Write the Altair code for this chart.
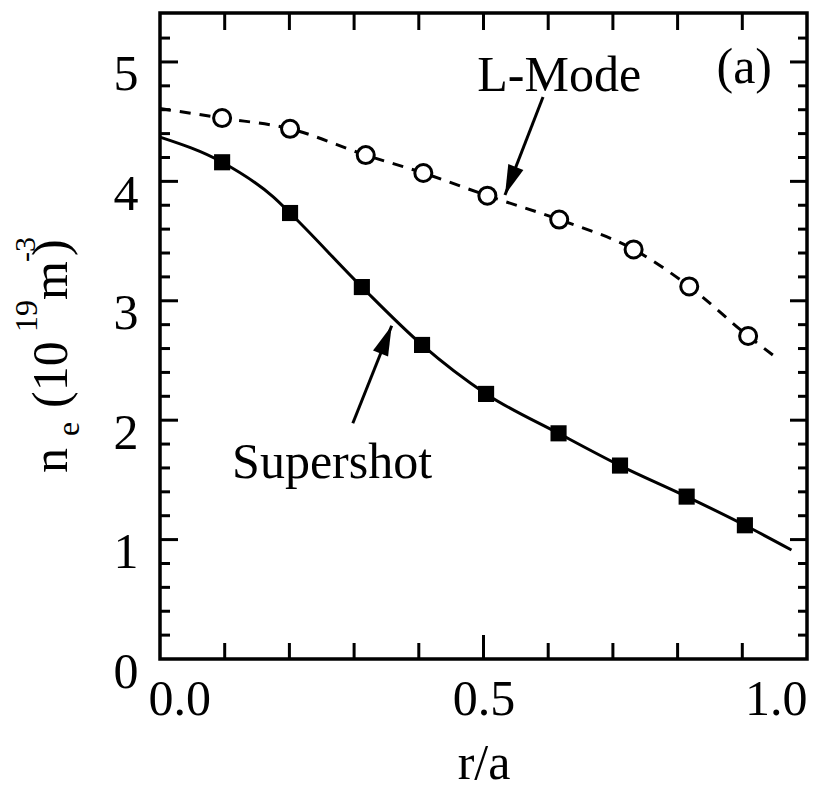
import altair as alt
import pandas as pd

# ---------------- data ----------------
# Supershot (filled squares) and the solid curve through them
r_super = [0.096, 0.201, 0.312, 0.405, 0.504, 0.616, 0.711, 0.814, 0.904]
ne_super = [4.16, 3.735, 3.115, 2.63, 2.22, 1.89, 1.62, 1.36, 1.12]
r_super_curve = [0.0, 0.096, 0.175, 0.201, 0.312, 0.405, 0.504, 0.616, 0.711, 0.814, 0.904, 0.976]
ne_super_curve = [4.37, 4.16, 3.87, 3.735, 3.115, 2.63, 2.22, 1.89, 1.62, 1.36, 1.12, 0.913]

# L-Mode (open circles) and the dashed curve through them
r_lmode = [0.096, 0.201, 0.318, 0.407, 0.506, 0.617, 0.732, 0.818, 0.909]
ne_lmode = [4.53, 4.44, 4.22, 4.07, 3.88, 3.68, 3.43, 3.12, 2.705]
r_lmode_curve = [0.0, 0.096, 0.201, 0.318, 0.407, 0.506, 0.617, 0.732, 0.818, 0.909, 0.951]
ne_lmode_curve = [4.61, 4.53, 4.44, 4.22, 4.07, 3.88, 3.68, 3.43, 3.12, 2.705, 2.53]

# axis labels / ticks
x_label_values = [0.0, 0.5, 1.0]
y_label_values = [0, 1, 2, 3, 4, 5]
x_major_ticks = [0.5]
x_minor_ticks = [0.1, 0.2, 0.3, 0.4, 0.6, 0.7, 0.8, 0.9]
y_major_ticks = [1, 2, 3, 4, 5]
y_minor_ticks = [0.2, 0.4, 0.6, 0.8, 1.2, 1.4, 1.6, 1.8, 2.2, 2.4, 2.6, 2.8,
                 3.2, 3.4, 3.6, 3.8, 4.2, 4.4, 4.6, 4.8, 5.2]

# annotations (text, data x, data y)
notes_text = ["L-Mode", "(a)", "Supershot"]
notes_x = [0.617, 0.903, 0.266]
notes_y = [4.76, 4.82, 1.513]

# arrows: tail -> tip in data coordinates
arrow_x = [0.592, 0.298]
arrow_y = [4.707, 1.974]
arrow_x2 = [0.5332, 0.3581]
arrow_y2 = [3.886, 2.791]
arrow_angle = [201.2, 21.8]

# ---------------- styling ----------------
FONT = "Liberation Serif"
FS = 50
W, H = 647, 646
XMAX, YMAX = 1.0, 5.41

x_scale = alt.Scale(domain=[0, XMAX], nice=False, zero=False)
y_scale = alt.Scale(domain=[0, YMAX], nice=False, zero=False)

x_axis = alt.Axis(values=x_label_values, format=".1f", title="r/a",
                  labelFlush=True,
                  labelOffset={"condition": {"test": "datum.value == 0", "value": -12}, "value": 0},
                  labelPadding=15, titlePadding=14)
y_axis = alt.Axis(values=y_label_values, format="d", title=None,
                  labelPadding=22, labelBaseline="middle", labelOffset=13)


def X(field):
    return alt.X(field, type="quantitative", scale=x_scale, axis=x_axis)


def Y(field):
    return alt.Y(field, type="quantitative", scale=y_scale, axis=y_axis)


super_curve = pd.DataFrame({"x": r_super_curve, "y": ne_super_curve})
lmode_curve = pd.DataFrame({"x": r_lmode_curve, "y": ne_lmode_curve})
super_pts = pd.DataFrame({"x": r_super, "y": ne_super})
lmode_pts = pd.DataFrame({"x": r_lmode, "y": ne_lmode})

line_super = alt.Chart(super_curve).mark_line(color="black", strokeWidth=3, interpolate="monotone").encode(
    x=X("x"), y=Y("y"), order="x:Q")
line_lmode = alt.Chart(lmode_curve).mark_line(color="black", strokeWidth=3, strokeDash=[11, 9],
                                              interpolate="monotone").encode(
    x=X("x"), y=Y("y"), order="x:Q")
pts_super = alt.Chart(super_pts).mark_point(shape="square", filled=True, color="black", size=260, opacity=1).encode(
    x=X("x"), y=Y("y"))
pts_lmode = alt.Chart(lmode_pts).mark_point(shape="circle", filled=True, fill="white", stroke="black",
                                            strokeWidth=3, size=290, opacity=1).encode(
    x=X("x"), y=Y("y"))

# tick marks (inward), lengths converted from pixels to data units
LM, Lm = 18 / W, 10 / W      # left
RM, Rm = 17 / W, 9 / W       # right
BM, Bm = 24 / H * YMAX, 16 / H * YMAX   # bottom
Tm = 17 / H * YMAX           # top
rows = []
for v in y_major_ticks:
    rows.append((0, v, LM, v))
    rows.append((XMAX, v, XMAX - RM, v))
for v in y_minor_ticks:
    rows.append((0, v, Lm, v))
    rows.append((XMAX, v, XMAX - Rm, v))
for v in x_major_ticks:
    rows.append((v, 0, v, BM))
    rows.append((v, YMAX, v, YMAX - Tm))
for v in x_minor_ticks:
    rows.append((v, 0, v, Bm))
    rows.append((v, YMAX, v, YMAX - Tm))
ticks = pd.DataFrame(rows, columns=["x", "y", "x2", "y2"])
tick_layer = alt.Chart(ticks).mark_rule(color="black", strokeWidth=3).encode(
    x=X("x"), y=Y("y"), x2="x2", y2="y2")

notes = pd.DataFrame({"t": notes_text, "x": notes_x, "y": notes_y})
note_layer = alt.Chart(notes).mark_text(font=FONT, fontSize=FS, color="black", align="center",
                                        baseline="alphabetic").encode(
    x=X("x"), y=Y("y"), text="t:N")

arrows = pd.DataFrame({"x": arrow_x, "y": arrow_y, "x2": arrow_x2, "y2": arrow_y2, "a": arrow_angle})
arrow_lines = alt.Chart(arrows).mark_rule(color="black", strokeWidth=3).encode(
    x=X("x"), y=Y("y"), x2="x2", y2="y2")
arrow_heads = alt.Chart(arrows).mark_point(shape="M0,0L0.27,1L-0.27,1Z", filled=True, color="black",
                                           size=3600, opacity=1).encode(
    x=X("x2"), y=Y("y2"), angle=alt.Angle("a:Q", scale=None))

# composite y-axis title: n_e (10^19 m^-3)
dummy = pd.DataFrame({"d": [0]})
title_pieces = [
    ("n", -93, 460, FS),
    ("e", -81, 423, 32),
    ("(10", -93, 395, FS),
    ("19", -123, 319, 32),
    ("m", -93, 287, FS),
    ("-3", -125, 249, 30),
    (")", -93, 243, FS),
]
title_layers = [
    alt.Chart(dummy).mark_text(text=t, font=FONT, fontSize=fs, color="black", angle=270,
                               align="left", baseline="alphabetic").encode(
        x=alt.value(px), y=alt.value(py))
    for (t, px, py, fs) in title_pieces
]

chart = alt.layer(
    tick_layer, line_lmode, line_super, pts_lmode, pts_super,
    arrow_lines, arrow_heads, note_layer, *title_layers
).properties(
    width=W, height=H,
    autosize=alt.AutoSizeParams(type="none"),
    padding={"left": 160, "top": 13, "right": 7, "bottom": 134},
    background="white",
).configure_view(
    stroke="black", strokeWidth=3.5
).configure_axis(
    labelFont=FONT, titleFont=FONT, labelColor="black", titleColor="black",
    labelFontSize=FS, titleFontSize=FS, titleFontWeight="normal",
    grid=False, ticks=False, domain=False
)

chart.save("out.html", embed_options={"renderer": "svg", "actions": False})
